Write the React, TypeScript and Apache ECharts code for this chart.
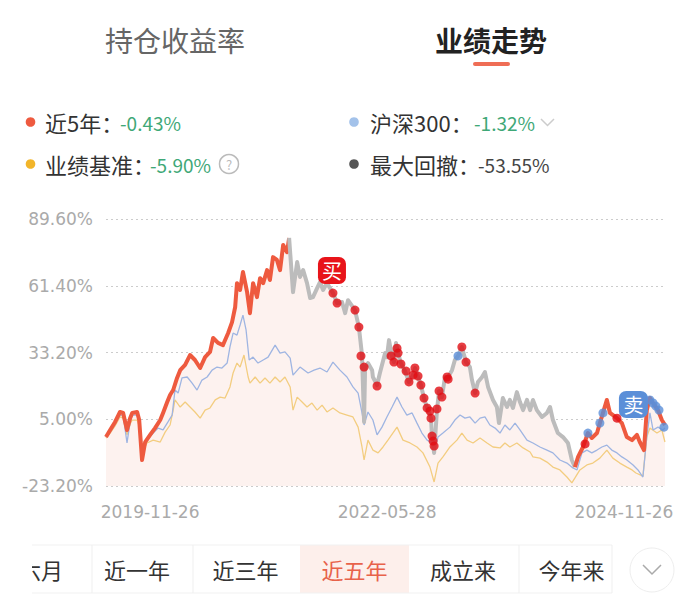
import React, { useEffect, useRef } from 'react';
import * as echarts from 'echarts';

// ---------- data ----------
const OFFSET = 23.2; // y values are plotted as value + OFFSET so ticks start at 0
const yMinValue = -23.2;
const yMaxValue = 89.6;
const yStep = 28.2;

const xMinDay = -170;
const xMaxDay = 1989;
const xTickDays = [0, 914, 1827];
const xTickLabels = ['2019-11-26', '2022-05-28', '2024-11-26'];

// [day offset from 2019-11-26, return %]
const fund: [number, number][] = [
  [-170, -2.5], [-154, 0.5], [-135, 3.9], [-116, 8.1], [-104, 7.7], [-89, 0.5], [-77, 5.5], [-69, 7.7], [-50, 8.1], [-42, 4.7],
  [-31, -12.2], [-19, -4.6], [0, -1.6], [19, 1.3], [39, 4.7], [50, 7.7], [66, 12.3], [77, 15.3], [89, 17.4], [104, 22.5],
  [116, 25.8], [135, 28.0], [154, 32.2], [173, 30.1], [193, 26.7], [212, 31.3], [231, 33.5], [243, 39.4], [262, 37.3], [281, 36.4],
  [301, 41.5], [316, 46.1], [328, 52.5], [335, 62.6], [347, 59.7], [358, 67.3], [374, 58.8], [385, 49.9], [397, 62.6], [412, 56.7],
  [424, 64.7], [436, 62.6], [451, 68.1], [462, 63.9], [474, 73.6], [489, 72.4], [501, 68.1], [513, 78.7], [528, 75.7], [536, 81.7],
  [551, 58.8], [567, 71.5], [578, 65.2], [590, 68.1], [605, 62.6], [617, 56.3], [628, 56.7], [644, 60.5], [655, 63.0], [667, 59.7],
  [682, 62.6], [705, 58.4], [721, 54.2], [740, 54.6], [752, 49.9], [763, 55.4], [790, 51.2], [805, 44.0], [817, 32.2], [825, 3.9],
  [829, 27.1], [840, 28.8], [856, 25.8], [859, 22.9], [875, 19.5], [886, 24.6], [906, 33.0], [913, 31.3], [921, 38.5], [933, 31.3],
  [940, 29.2], [948, 37.3], [956, 33.0], [967, 28.8], [983, 25.4], [998, 20.8], [1014, 23.7], [1021, 26.7], [1033, 22.9], [1044, 19.5],
  [1056, 14.0], [1068, 9.8], [1083, 5.5], [1087, -2.5], [1095, -9.2], [1106, 8.9], [1114, 17.0], [1125, 14.4], [1137, 22.9], [1149, 22.9],
  [1164, 25.8], [1175, 30.1], [1187, 31.8], [1202, 35.6], [1218, 29.2], [1233, 27.1], [1241, 21.6], [1253, 16.1], [1264, 20.8], [1280, 22.9],
  [1291, 25.0], [1303, 18.7], [1322, 13.2], [1337, 10.2], [1345, 3.4], [1360, 14.0], [1376, 10.2], [1387, 13.2], [1399, 9.8], [1414, 16.5],
  [1426, 12.3], [1438, 8.9], [1453, 13.2], [1465, 8.9], [1476, 13.2], [1491, 8.9], [1511, 6.0], [1530, 7.7], [1542, 10.2], [1553, 4.7],
  [1572, -0.8], [1592, -2.5], [1611, -5.0], [1626, -12.2], [1638, -15.2], [1650, -10.9], [1669, -6.7], [1688, -0.8], [1703, -2.9], [1723, -0.8],
  [1734, 3.4], [1746, 7.7], [1761, 13.2], [1773, 7.7], [1800, 5.5], [1819, 3.4], [1838, -2.5], [1858, -3.8], [1877, -1.6], [1888, -4.6],
  [1904, -8.0], [1915, 8.9], [1927, 14.0], [1939, 11.9], [1958, 8.9], [1973, 4.7], [1985, 2.6],
];
const greyStartDay = 536;
const greyEndDay = 1638;

const hs300: [number, number][] = [
  [-170, -2.5], [-154, -0.4], [-135, 3.0], [-116, 6.8], [-104, 6.8], [-89, -5.0], [-77, 3.9], [-69, 6.8], [-50, 6.8], [-39, 2.6],
  [-31, -10.1], [-12, -3.8], [12, -0.8], [31, 1.3], [50, 0.5], [69, 3.9], [85, 6.8], [96, 17.4], [108, 16.1], [123, 22.5],
  [143, 22.9], [162, 20.3], [181, 17.4], [200, 21.6], [220, 22.9], [239, 25.8], [258, 27.1], [277, 26.7], [297, 28.8], [308, 35.6],
  [320, 41.5], [335, 40.6], [347, 44.9], [358, 49.1], [370, 42.8], [382, 30.1], [397, 31.3], [416, 28.8], [436, 30.1], [455, 31.3],
  [482, 36.4], [501, 33.0], [520, 33.5], [540, 30.9], [551, 23.7], [578, 27.1], [609, 24.6], [632, 25.8], [655, 26.7], [682, 25.0],
  [705, 29.2], [732, 25.8], [759, 22.9], [782, 18.7], [802, 16.1], [817, 7.7], [825, 2.6], [840, 8.1], [859, 4.7], [875, -1.6],
  [894, 1.7], [913, 6.0], [933, 10.2], [952, 14.4], [971, 10.2], [990, 6.8], [1010, 7.7], [1029, 3.4], [1048, -0.8], [1068, -3.8],
  [1087, -5.0], [1095, -8.8], [1110, -2.5], [1129, -0.8], [1156, 1.7], [1175, 4.7], [1195, 6.8], [1214, 5.5], [1233, 6.0], [1253, 3.4],
  [1272, 5.5], [1291, 6.0], [1310, 2.6], [1330, 1.3], [1349, -0.8], [1368, 2.6], [1387, 0.5], [1407, 3.4], [1426, 0.5], [1453, -3.8],
  [1476, -5.0], [1503, -6.7], [1530, -8.0], [1553, -9.2], [1580, -12.2], [1607, -13.5], [1630, -15.6], [1646, -16.4], [1665, -9.2], [1684, -8.0],
  [1703, -9.2], [1723, -8.0], [1742, -6.7], [1761, -5.9], [1780, -8.0], [1800, -9.2], [1819, -10.9], [1838, -12.2], [1862, -14.3], [1881, -16.4],
  [1900, -19.4], [1915, -2.5], [1927, 7.7], [1939, 0.5], [1958, 1.7], [1977, 0.5], [1985, 1.3],
];

const benchmark: [number, number][] = [
  [-170, -2.9], [-154, -0.8], [-135, 2.2], [-116, 6.0], [-104, 5.5], [-89, -1.6], [-77, 3.0], [-69, 4.7], [-50, 4.7], [-39, 1.3],
  [-31, -9.2], [-12, -5.0], [12, -3.8], [39, -4.6], [58, -0.4], [77, 2.6], [89, 8.9], [96, 13.2], [116, 10.2], [135, 12.3],
  [154, 10.2], [173, 8.1], [193, 5.5], [212, 8.9], [231, 9.8], [251, 13.2], [270, 14.4], [289, 14.0], [308, 18.7], [320, 24.6],
  [335, 28.8], [347, 27.1], [362, 32.2], [378, 22.9], [385, 20.3], [405, 22.9], [424, 20.3], [443, 22.5], [462, 20.3], [482, 22.9],
  [501, 20.8], [520, 22.9], [540, 18.7], [551, 8.9], [567, 14.4], [586, 12.3], [605, 10.2], [624, 11.9], [644, 8.9], [663, 11.0],
  [682, 8.1], [705, 9.8], [732, 7.7], [759, 6.8], [782, 6.0], [802, 1.7], [817, -6.7], [825, -12.2], [840, -3.8], [859, -8.0],
  [879, -9.2], [898, -6.7], [917, -3.8], [952, 1.7], [975, -3.8], [1002, -5.0], [1029, -6.7], [1052, -9.2], [1079, -15.2], [1095, -21.5],
  [1110, -13.5], [1129, -10.9], [1156, -6.7], [1183, -3.8], [1202, -0.8], [1222, -3.8], [1245, -5.0], [1272, -2.9], [1299, -5.0], [1322, -6.7],
  [1349, -7.1], [1368, -5.0], [1387, -6.7], [1414, -5.0], [1438, -7.1], [1465, -8.8], [1476, -10.9], [1503, -11.4], [1530, -13.1], [1553, -15.2],
  [1580, -16.4], [1607, -19.4], [1626, -21.9], [1638, -19.8], [1657, -16.4], [1684, -14.3], [1707, -13.5], [1734, -11.4], [1761, -8.0], [1784, -11.4],
  [1811, -13.5], [1838, -15.2], [1858, -16.4], [1873, -17.7], [1900, -19.0], [1915, -2.5], [1927, 1.3], [1954, -0.8], [1973, 0.5], [1985, -4.6],
];

const buyPoints: [number, number][] = [
  [705, 58.4], [721, 54.2], [790, 51.2], [805, 44.0], [813, 31.8], [825, 27.1], [875, 19.1], [929, 31.8], [940, 29.2], [952, 35.1],
  [956, 33.0], [967, 28.4], [987, 25.4], [998, 20.8], [1014, 23.7], [1021, 26.7], [1033, 23.3], [1044, 19.5], [1056, 14.0], [1068, 9.8],
  [1079, 8.5], [1083, 5.5], [1087, -2.1], [1091, -4.2], [1095, -6.3], [1106, 9.4], [1114, 17.0], [1125, 14.4], [1145, 22.9], [1149, 22.0],
  [1202, 35.6], [1218, 29.2], [1253, 16.1], [1677, -5.4], [1800, 5.5],
];
const sellPoints: [number, number][] = [
  [1187, 31.8], [1688, -0.8], [1734, 3.4], [1746, 7.7], [1927, 13.2], [1939, 11.9], [1950, 10.6], [1962, 8.9], [1981, 1.7],
];

const headerTabs = ['持仓收益率', '业绩走势'];
const legendLabels = ['近5年：', '沪深300：', '业绩基准：', '最大回撤：'];
const legendValues = ['-0.43%', '-1.32%', '-5.90%', '-53.55%'];
const legendDotColors = ['#ee5a3f', '#a3c2ea', '#f2b52a', '#555555'];
const periodTabs = ['近六月', '近一年', '近三年', '近五年', '成立来', '今年来'];
const selectedPeriod = 3;

// ---------- styles ----------
const RED = '#ee5a3f';
const GREY = '#bcbcbc';
const BLUE = '#9fb5e2';
const YELLOW = '#f3cd80';
const GREEN = '#3fa877';
const CJK = '"Noto Sans CJK SC", "Noto Sans", sans-serif';
const AXISFONT = '"DejaVu Sans", sans-serif';

const shift = (pts: [number, number][]) => pts.map(([d, v]) => [d, +(v + OFFSET).toFixed(2)]);

function buildGraphic() {
  const g: any[] = [];
  const text = (t: string, x: number, y: number, size: number, fill: string, extra: any = {}) => ({
    type: 'text', x, y, silent: true,
    style: { text: t, fill, fontSize: size, fontFamily: CJK, align: 'left', verticalAlign: 'middle', ...extra },
  });
  // header
  g.push(text(headerTabs[0], 105, 40, 28, '#666666'));
  g.push(text(headerTabs[1], 435, 40, 28, '#222222', { fontWeight: 'bold' }));
  g.push({ type: 'rect', shape: { x: 473, y: 62, width: 37, height: 4, r: 2 }, style: { fill: '#ef6d55' }, silent: true });

  // legend
  const labelX = [45, 370, 45, 370];
  const valueX = [120, 474, 150, 478];
  const dotX = [30.5, 354, 30.5, 354];
  const rows = [122, 122, 164, 164];
  legendLabels.forEach((l, i) => {
    g.push({ type: 'circle', shape: { cx: dotX[i], cy: rows[i], r: 4.8 }, style: { fill: legendDotColors[i] }, silent: true });
    g.push(text(l, labelX[i], rows[i], 22, '#333333'));
    g.push(text(legendValues[i], valueX[i], rows[i] + 0.5, 19, i === 3 ? '#444444' : GREEN));
  });
  // chevron next to hs300
  g.push({ type: 'polyline', shape: { points: [[541, 119], [547.5, 125.5], [554, 119]] }, style: { stroke: '#cccccc', lineWidth: 1.5, fill: null }, silent: true });
  // question mark
  g.push({ type: 'circle', shape: { cx: 229, cy: 164, r: 9.5 }, style: { fill: '#fff', stroke: '#bbbbbb', lineWidth: 1.5 }, silent: true });
  g.push({ type: 'text', x: 229, y: 164.5, silent: true, style: { text: '?', fill: '#bbbbbb', fontSize: 13, fontFamily: CJK, align: 'center', verticalAlign: 'middle' } });

  // period tabs
  g.push({ type: 'rect', shape: { x: 300, y: 545, width: 109, height: 48 }, style: { fill: '#fdefeb' }, silent: true });
  g.push({ type: 'line', shape: { x1: 0, y1: 545, x2: 612, y2: 545 }, style: { stroke: '#f1f1f1', lineWidth: 1 }, silent: true });
  g.push({ type: 'line', shape: { x1: 0, y1: 593, x2: 612, y2: 593 }, style: { stroke: '#f1f1f1', lineWidth: 1 }, silent: true });
  [92, 193, 519, 612].forEach((x) => {
    g.push({ type: 'line', shape: { x1: x, y1: 545, x2: x, y2: 593 }, style: { stroke: '#efefef', lineWidth: 1 }, silent: true });
  });
  const tabAnchors = [63, 137, 245.5, 354.5, 463, 571.5];
  periodTabs.forEach((t, i) => {
    g.push({
      type: 'text', x: tabAnchors[i], y: 569, silent: true,
      style: {
        text: t, fill: i === selectedPeriod ? '#e8624a' : '#333333', fontSize: 22, fontFamily: CJK,
        align: i === 0 ? 'right' : 'center', verticalAlign: 'middle',
      },
    });
  });
  g.push({ type: 'rect', shape: { x: 0, y: 540, width: 32, height: 60 }, style: { fill: '#ffffff' }, silent: true });
  g.push({ type: 'circle', shape: { cx: 652, cy: 570, r: 22 }, style: { fill: '#ffffff', stroke: '#eeeeee', lineWidth: 1 }, silent: true });
  g.push({ type: 'polyline', shape: { points: [[643, 565], [652, 574], [661, 565]] }, style: { stroke: '#aaaaaa', lineWidth: 1.5, fill: null }, silent: true });
  return g;
}

export default function App() {
  const ref = useRef<HTMLDivElement>(null);
  useEffect(() => {
    if (!ref.current) return;
    const chart = echarts.init(ref.current, null, { renderer: 'svg' });
    const fundShifted = shift(fund);
    const red1 = fundShifted.filter(([d]) => d <= greyStartDay);
    const grey = fundShifted.filter(([d]) => d >= greyStartDay && d <= greyEndDay);
    const red2 = fundShifted.filter(([d]) => d >= greyEndDay);
    const buys = shift(buyPoints);
    const sells = shift(sellPoints);
    const lineBase = { type: 'line', showSymbol: false, symbol: 'none', smooth: false, silent: true };
    chart.setOption({
      animation: false,
      backgroundColor: '#ffffff',
      grid: { left: 106, right: 34, top: 219.3, bottom: 118, containLabel: false, outerBoundsMode: 'none' },
      xAxis: {
        type: 'value', min: xMinDay, max: xMaxDay,
        axisLine: { show: false }, axisTick: { show: false }, splitLine: { show: false },
        axisLabel: {
          customValues: xTickDays,
          showMinLabel: true, showMaxLabel: true, hideOverlap: false,
          formatter: (v: number) => {
            const i = xTickDays.indexOf(Math.round(v));
            return i >= 0 ? xTickLabels[i] : '';
          },
          color: '#aaaaaa', fontSize: 17, fontFamily: AXISFONT, margin: 17,
        },
      },
      yAxis: {
        type: 'value', min: 0, max: yMaxValue - yMinValue, interval: yStep,
        axisLine: { show: false }, axisTick: { show: false },
        splitLine: { show: true, lineStyle: { color: '#cccccc', type: [2, 3], width: 1 } },
        axisLabel: {
          formatter: (v: number) => (v - OFFSET).toFixed(2) + '%',
          color: '#aaaaaa', fontSize: 17, fontFamily: AXISFONT, margin: 13,
        },
      },
      series: [
        { ...lineBase, name: 'area', data: fundShifted, lineStyle: { width: 0, opacity: 0 }, areaStyle: { color: '#fdf2ef', opacity: 1 }, z: 1 },
        { ...lineBase, name: '业绩基准', data: shift(benchmark), lineStyle: { color: YELLOW, width: 1.3 }, z: 2 },
        { ...lineBase, name: '沪深300', data: shift(hs300), lineStyle: { color: BLUE, width: 1.3 }, z: 3 },
        { ...lineBase, name: 'fund-red-1', data: red1, lineStyle: { color: RED, width: 4, join: 'round' }, z: 4 },
        { ...lineBase, name: 'fund-grey', data: grey, lineStyle: { color: GREY, width: 4, join: 'round' }, z: 4 },
        { ...lineBase, name: 'fund-red-2', data: red2, lineStyle: { color: RED, width: 4, join: 'round' }, z: 4 },
        {
          type: 'scatter', name: '买', data: buys, symbolSize: 9, itemStyle: { color: '#e10e14' }, z: 5, silent: true,
          markPoint: {
            symbol: 'roundRect', symbolSize: [28, 27], symbolOffset: [-1, -22.5], silent: true,
            itemStyle: { color: '#e8141a' },
            label: { show: true, position: 'inside', formatter: '买', color: '#ffffff', fontSize: 20, fontFamily: CJK },
            data: [{ coord: buys[0] }],
          },
        },
        {
          type: 'scatter', name: '卖', data: sells, symbolSize: 9, itemStyle: { color: '#5b8fd8' }, z: 5, silent: true,
          markPoint: {
            symbol: 'roundRect', symbolSize: [29, 27], symbolOffset: [-16.5, 4.5], silent: true,
            itemStyle: { color: '#5b8fd8' },
            label: { show: true, position: 'inside', formatter: '卖', color: '#ffffff', fontSize: 20, fontFamily: CJK },
            data: [{ coord: sells[4] }],
          },
        },
      ],
      graphic: buildGraphic(),
    });
    return () => chart.dispose();
  }, []);
  return <div ref={ref} style={{ position: 'fixed', left: 0, top: 0, width: 700, height: 604, background: '#ffffff' }} />;
}
